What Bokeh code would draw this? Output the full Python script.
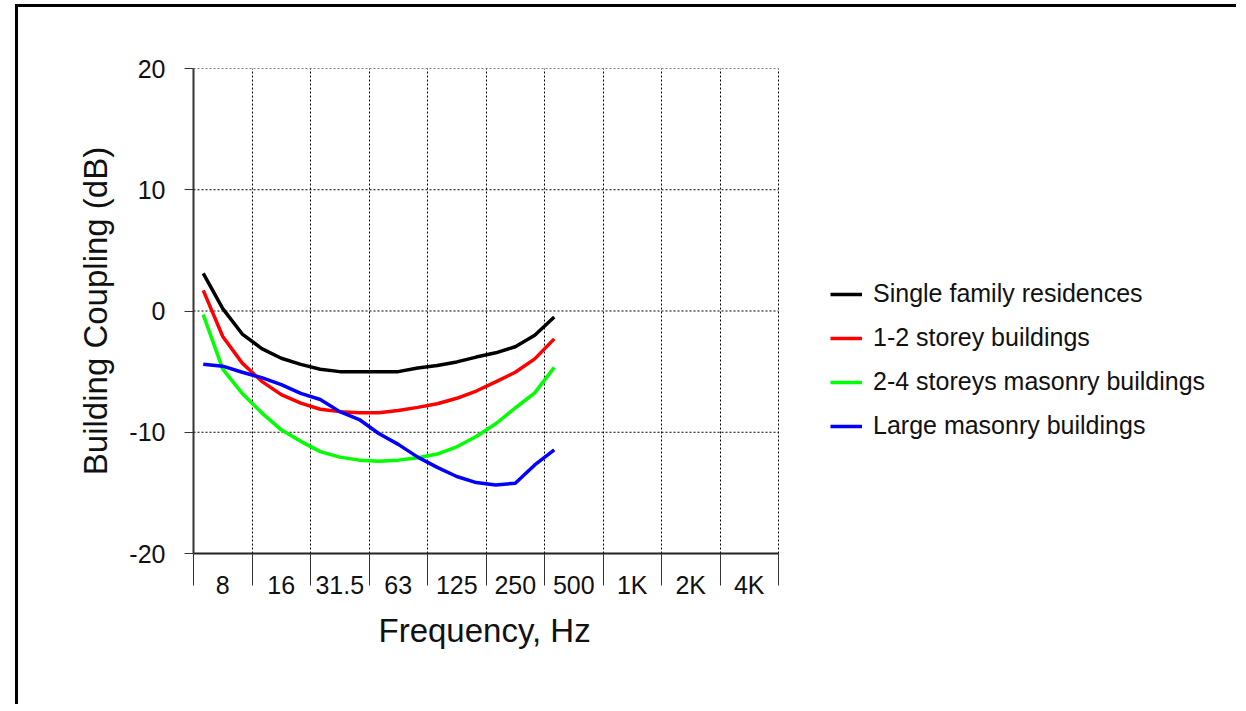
from bokeh.plotting import figure
from bokeh.models import Range1d, FixedTicker, Legend, LegendItem, Title
from bokeh.embed import file_html
from bokeh.resources import INLINE

# Octave band labels (x axis categories)
bands = ["8", "16", "31.5", "63", "125", "250", "500", "1K", "2K", "4K"]
# One-third octave centre frequencies at which the curves are given
third_octaves = ["6.3", "8", "10", "12.5", "16", "20", "25", "31.5", "40", "50",
                 "63", "80", "100", "125", "160", "200", "250", "315", "400"]

single_family = [3.1, 0.2, -1.9, -3.1, -3.9, -4.4, -4.8, -5.0, -5.0, -5.0,
                 -5.0, -4.7, -4.5, -4.2, -3.8, -3.45, -2.95, -2.0, -0.5]
storey_1_2 = [1.7, -2.1, -4.3, -5.8, -6.9, -7.6, -8.1, -8.3, -8.4, -8.4,
              -8.2, -7.95, -7.65, -7.2, -6.6, -5.85, -5.05, -3.95, -2.3]
masonry_2_4 = [-0.3, -4.8, -6.8, -8.4, -9.8, -10.75, -11.6, -12.05, -12.3, -12.4,
               -12.3, -12.1, -11.8, -11.2, -10.35, -9.3, -8.0, -6.75, -4.65]
large_masonry = [-4.4, -4.55, -5.05, -5.5, -6.07, -6.8, -7.3, -8.3, -8.95, -10.1,
                 -11.0, -12.05, -12.9, -13.65, -14.15, -14.35, -14.2, -12.7, -11.45]

series_names = ["Single family residences", "1-2 storey buildings",
                "2-4 storeys masonry buildings", "Large masonry buildings"]
series_values = [single_family, storey_1_2, masonry_2_4, large_masonry]
series_colors = ["#000000", "#ff0000", "#00ff00", "#0000ff"]

y_ticks = [-20, -10, 0, 10, 20]
y_tick_labels = ["-20", "-10", "0", "10", "20"]

x_title = "Frequency, Hz"
y_title = "Building Coupling (dB)"

FONT = "Liberation Sans"

# layout (pixels)
CANVAS_W, CANVAS_H = 1221, 700
BORDER_L, BORDER_T, BORDER_B = 175, 61, 154
PLOT_W = 585          # width of the gridded chart area
FRAME_W = CANVAS_W - BORDER_L

n_bands = len(bands)
# x: each octave band occupies one unit; 1/3-octave points are 1/3 unit apart,
# the 8 Hz third-octave sits at the centre of the 8 Hz octave band.
xs = [0.5 + (i - 1) / 3.0 for i in range(len(third_octaves))]
edges = list(range(n_bands + 1))
centers = [i + 0.5 for i in range(n_bands)]
x_end = n_bands * FRAME_W / PLOT_W

p = figure(width=CANVAS_W, height=CANVAS_H, output_backend="svg", toolbar_location=None,
           x_range=Range1d(0, x_end), y_range=Range1d(-20, 20),
           min_border_left=BORDER_L, min_border_right=0, min_border_top=BORDER_T,
           min_border_bottom=BORDER_B)
p.styles = {"margin-left": "15px", "margin-top": "4px",
            "border-left": "3px solid black", "border-top": "3px solid black"}
p.outline_line_color = None
p.background_fill_color = "white"
p.border_fill_color = "white"

# grids
p.xgrid.ticker = FixedTicker(ticks=edges)
p.xgrid.grid_line_color = "#000000"
p.xgrid.grid_line_dash = "2 2"
p.xgrid.grid_line_width = 1
p.ygrid.visible = False
p.segment(x0=[0] * len(y_ticks), x1=[n_bands] * len(y_ticks), y0=y_ticks, y1=y_ticks,
          line_color="#000000", line_dash="2 2", line_width=1)

# x axis
xa = p.xaxis[0]
xa.bounds = (0, n_bands)
xa.ticker = FixedTicker(ticks=centers, minor_ticks=edges)
xa.major_label_overrides = {c: b for c, b in zip(centers, bands)}
xa.major_tick_out = 0
xa.major_tick_in = 0
xa.minor_tick_out = 32
xa.minor_tick_in = 0
xa.minor_tick_line_color = "#333333"
xa.axis_line_color = "#222222"
xa.axis_line_width = 2
xa.major_label_standoff = -15

# x axis title, centred under the octave bands
xt = Title(text=x_title, align="left", offset=185, standoff=16,
           text_font=FONT, text_font_size="33px", text_font_style="normal",
           text_color="#111111")
p.add_layout(xt, "below")

# y axis
ya = p.yaxis[0]
ya.ticker = FixedTicker(ticks=y_ticks)
ya.major_label_overrides = {t: s for t, s in zip(y_ticks, y_tick_labels)}
ya.major_tick_out = 9
ya.major_tick_in = 0
ya.minor_tick_out = 0
ya.minor_tick_in = 0
ya.axis_line_color = "#333333"
ya.axis_line_width = 2
ya.major_tick_line_color = "#333333"
ya.major_label_standoff = 19
ya.axis_label = y_title
ya.axis_label_standoff = 12
ya.axis_label_text_font = FONT
ya.axis_label_text_font_size = "33px"
ya.axis_label_text_font_style = "normal"
ya.axis_label_text_color = "#111111"

for ax in (xa, ya):
    ax.major_label_text_font = FONT
    ax.major_label_text_font_size = "25px"
    ax.major_label_text_color = "#111111"

items = []
for name, vals, col in zip(series_names, series_values, series_colors):
    r = p.line(xs, vals, line_color=col, line_width=3.5)
    items.append(LegendItem(label=name, renderers=[r]))

legend = Legend(items=items, location=(637, 113), orientation="vertical")
legend.label_text_font = FONT
legend.label_text_font_size = "25px"
legend.label_text_color = "#111111"
legend.glyph_width = 32
legend.glyph_height = 28
legend.label_height = 28
legend.label_standoff = 11
legend.spacing = 15
legend.padding = 0
legend.margin = 0
legend.border_line_color = None
legend.background_fill_alpha = 0
p.add_layout(legend, "center")

open("out.html", "w").write(file_html(p, INLINE))
